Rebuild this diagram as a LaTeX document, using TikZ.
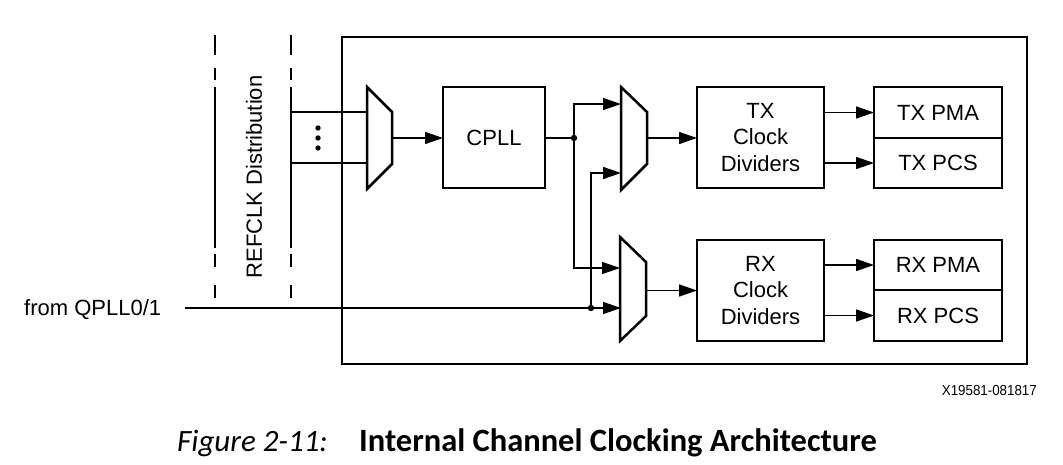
\documentclass[tikz,border=0pt]{standalone}
\usepackage{fontspec}
\setmainfont{Liberation Sans}
\newfontfamily\capfont{Carlito}
\usetikzlibrary{arrows.meta}
\tikzset{
  blk/.style={draw, line width=2.5pt, inner sep=0pt, outer sep=0pt, align=center,
    font=\fontsize{22}{26.5}\selectfont},
  conn/.style={line width=1.5pt},
  arr/.style={conn, -{Triangle[length=18pt,width=12pt]}},
  muxs/.style={draw, line width=2.5pt, line join=miter},
  dsh/.style={line width=1.6pt},
  lbl/.style={font=\fontsize{22}{26.5}\selectfont, inner sep=0pt},
}
\begin{document}
\begin{tikzpicture}[x=1pt,y=-1pt]
\useasboundingbox (0,0) rectangle (1063,464);

% outer channel box
\node[draw, line width=2.7pt, minimum width=685pt, minimum height=327pt, inner sep=0pt] (chan) at (684.5,200.5) {};

% dashed REFCLK distribution lines
\foreach \x in {215,291}{
  \foreach \a/\b in {35/55, 68/80, 87/248, 254/267, 285/298}{
    \draw[dsh] (\x,\a) -- (\x,\b);
  }
}
\node[lbl, rotate=90] (refclk) at (254,177) {REFCLK Distribution};
\coordinate (d1) at (291,112);
\coordinate (d2) at (291,163);

% muxes
\draw[muxs] (367,87) -- (392,112) -- (392,164) -- (367,189) -- cycle;
\coordinate (m1in1) at (367,112);
\coordinate (m1in2) at (367,163);
\coordinate (m1out) at (392,138);
\draw[muxs] (621,87) -- (647,112) -- (647,164) -- (621,190) -- cycle;
\coordinate (m2in1) at (621,104);
\coordinate (m2in2) at (621,173);
\coordinate (m2out) at (647,138);
\draw[muxs] (620,237) -- (646,262) -- (646,316) -- (620,341) -- cycle;
\coordinate (m3in1) at (620,268);
\coordinate (m3in2) at (621,308);
\coordinate (m3out) at (646,290.5);

% blocks
\node[blk, minimum width=102pt, minimum height=101pt] (cpll) at (494,137.5) {CPLL};
\node[blk, minimum width=127pt, minimum height=101pt] (txdiv) at (760.5,137.5) {TX\\Clock\\Dividers};
\node[blk, minimum width=127pt, minimum height=101pt] (rxdiv) at (760.5,290.5) {RX\\Clock\\Dividers};
\node[blk, minimum width=128pt, minimum height=51pt] (txpma) at (938,112.5) {TX PMA};
\node[blk, minimum width=128pt, minimum height=50pt] (txpcs) at (938,163) {TX PCS};
\node[blk, minimum width=128pt, minimum height=50pt] (rxpma) at (938,265) {RX PMA};
\node[blk, minimum width=128pt, minimum height=51pt] (rxpcs) at (938,315.5) {RX PCS};

% refclk inputs
\draw[conn] (d1) -- (m1in1);
\draw[conn] (d2) -- (m1in2);
\foreach \y [count=\i] in {128,138,148}{
  \fill (318,\y) circle (2.7pt);
}

% CPLL path
\draw[arr] (m1out) -- (m1out -| cpll.west);
\coordinate (j1) at (574,138);
\draw[conn] (cpll.east |- j1) -- (j1);
\draw[arr] (j1) |- (m2in1);
\draw[arr] (j1) |- (m3in1);
\fill (j1) circle (3.2pt);

% QPLL path
\node[lbl, anchor=base west] (qpll) at (24,315) {from QPLL0/1};
\coordinate (qsrc) at (185,308);
\coordinate (j2) at (591,308);
\draw[arr] (qsrc) -- (m3in2);
\draw[arr] (j2) |- (m2in2);
\fill (j2) circle (3.2pt);

% mux outputs
\draw[arr] (m2out) -- (m2out -| txdiv.west);
\draw[arr] (m3out) -- (m3out -| rxdiv.west);

% divider outputs
\draw[arr] (txdiv.east |- txpma) -- (txpma.west);
\draw[arr] (txdiv.east |- txpcs) -- (txpcs.west);
\draw[arr] (rxdiv.east |- rxpma) -- (rxpma.west);
\draw[arr] (rxdiv.east |- rxpcs) -- (rxpcs.west);

% figure id and caption
\node[anchor=base east, inner sep=0pt, xscale=0.92, font=\fontsize{14.5}{16}\selectfont] (fid) at (1037,395) {X19581-081817};
\node[anchor=base west, inner sep=0pt, font=\capfont\itshape\fontsize{31}{34}\selectfont] (capa) at (177,451) {Figure 2-11:};
\node[anchor=base west, inner sep=0pt, font=\capfont\bfseries\fontsize{32.5}{36}\selectfont] (capb) at (359,451) {Internal Channel Clocking Architecture};
\end{tikzpicture}
\end{document}
